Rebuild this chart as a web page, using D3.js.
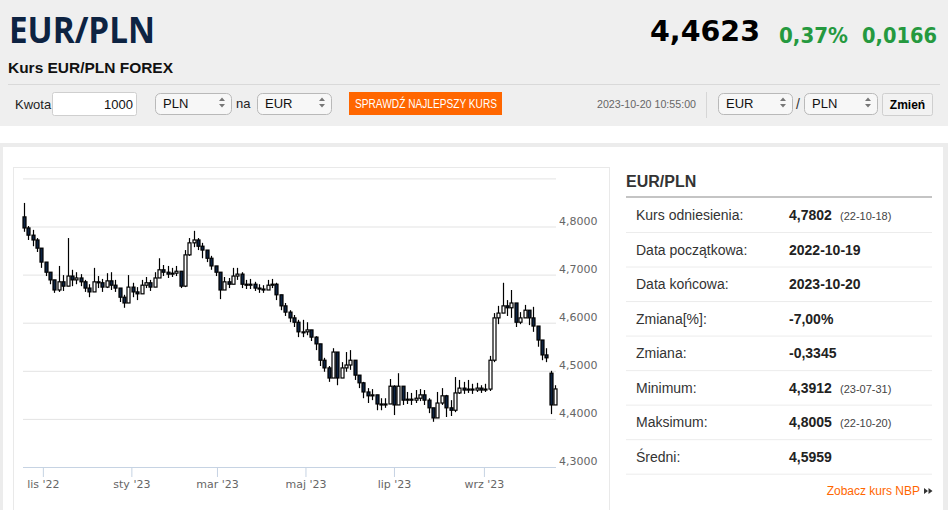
<!DOCTYPE html>
<html>
<head>
<meta charset="utf-8">
<script src="https://cdn.jsdelivr.net/npm/d3@7"></script>
<style>
  body { margin: 0; background: #fff; }
  svg text { font-family: "Liberation Sans", Arial, sans-serif; }
</style>
</head>
<body>
<div id="page"></div>
<script>
// dane: świece co 3 dni od 2022-10-19
const startDate = new Date(2022, 9, 19);
const stepDays = 3;

const opens = [
  4.820,4.797,4.782,4.772,4.755,4.726,4.705,4.689,4.668,4.685,
  4.676,4.697,4.689,4.693,4.685,4.672,4.664,4.685,4.683,4.674,
  4.687,4.678,4.672,4.653,4.641,4.674,4.664,4.660,4.678,4.683,
  4.674,4.693,4.710,4.705,4.701,4.703,4.707,4.676,4.741,4.766,
  4.772,4.759,4.751,4.734,4.718,4.705,4.668,4.685,4.680,4.697,
  4.701,4.680,4.678,4.680,4.672,4.670,4.668,4.678,4.680,4.658,
  4.635,4.622,4.610,4.601,4.581,4.581,4.585,4.570,4.556,4.522,
  4.506,4.485,4.539,4.485,4.506,4.512,4.522,4.491,4.475,4.456,
  4.448,4.450,4.431,4.429,4.431,4.468,4.429,4.468,4.439,4.441,
  4.439,4.443,4.450,4.439,4.423,4.402,4.433,4.448,4.423,4.418,
  4.454,4.464,4.460,4.462,4.460,4.464,4.460,4.462,4.522,4.610,
  4.620,4.635,4.631,4.641,4.601,4.610,4.626,4.610,4.593,4.564,
  4.533,4.495,4.429
];
const highs = [
  4.849,4.801,4.793,4.776,4.755,4.720,4.705,4.685,4.718,4.699,
  4.776,4.710,4.705,4.701,4.689,4.680,4.714,4.697,4.691,4.703,
  4.705,4.689,4.672,4.658,4.699,4.683,4.674,4.689,4.695,4.689,
  4.705,4.734,4.720,4.718,4.714,4.718,4.705,4.751,4.776,4.791,
  4.776,4.766,4.751,4.739,4.718,4.701,4.695,4.693,4.714,4.714,
  4.705,4.689,4.691,4.685,4.680,4.678,4.689,4.691,4.683,4.651,
  4.641,4.626,4.616,4.606,4.606,4.601,4.585,4.572,4.554,4.527,
  4.510,4.547,4.539,4.518,4.539,4.543,4.522,4.491,4.477,4.464,
  4.462,4.450,4.443,4.443,4.483,4.470,4.495,4.460,4.456,4.454,
  4.460,4.462,4.460,4.443,4.423,4.456,4.464,4.450,4.439,4.487,
  4.481,4.477,4.481,4.473,4.475,4.470,4.473,4.531,4.620,4.635,
  4.683,4.647,4.668,4.626,4.622,4.637,4.626,4.633,4.589,4.554,
  4.547,4.500,4.470
];
const lows = [
  4.789,4.772,4.759,4.747,4.714,4.697,4.680,4.662,4.664,4.666,
  4.680,4.676,4.680,4.676,4.664,4.653,4.668,4.672,4.664,4.672,
  4.668,4.664,4.643,4.631,4.647,4.653,4.647,4.664,4.672,4.666,
  4.676,4.697,4.697,4.693,4.695,4.697,4.672,4.674,4.739,4.757,
  4.751,4.734,4.726,4.710,4.697,4.649,4.668,4.672,4.683,4.689,
  4.672,4.670,4.670,4.666,4.662,4.662,4.668,4.672,4.647,4.626,
  4.614,4.601,4.591,4.570,4.570,4.574,4.562,4.543,4.510,4.498,
  4.477,4.485,4.470,4.491,4.498,4.502,4.481,4.464,4.443,4.433,
  4.439,4.418,4.418,4.423,4.431,4.408,4.431,4.429,4.431,4.429,
  4.433,4.437,4.429,4.412,4.394,4.402,4.429,4.404,4.406,4.414,
  4.452,4.452,4.454,4.452,4.456,4.454,4.456,4.458,4.518,4.597,
  4.622,4.614,4.610,4.591,4.597,4.610,4.595,4.581,4.550,4.522,
  4.518,4.410,4.439
];
const closes = [
  4.797,4.782,4.772,4.755,4.726,4.705,4.689,4.668,4.685,4.676,
  4.697,4.689,4.693,4.685,4.672,4.664,4.685,4.683,4.674,4.687,
  4.678,4.672,4.653,4.641,4.674,4.664,4.660,4.678,4.683,4.674,
  4.693,4.710,4.705,4.701,4.703,4.707,4.676,4.741,4.766,4.772,
  4.759,4.751,4.734,4.718,4.705,4.668,4.685,4.680,4.697,4.701,
  4.680,4.678,4.680,4.672,4.670,4.668,4.678,4.680,4.658,4.635,
  4.622,4.610,4.601,4.581,4.581,4.585,4.570,4.556,4.522,4.506,
  4.485,4.539,4.485,4.506,4.512,4.522,4.491,4.475,4.456,4.448,
  4.450,4.431,4.429,4.431,4.468,4.429,4.468,4.439,4.441,4.439,
  4.443,4.450,4.439,4.423,4.402,4.433,4.448,4.423,4.418,4.454,
  4.464,4.460,4.462,4.460,4.464,4.460,4.462,4.522,4.610,4.620,
  4.635,4.631,4.641,4.601,4.610,4.626,4.610,4.593,4.564,4.533,
  4.527,4.429,4.4623
];

const tickDates = [new Date(2022,10,1), new Date(2023,0,1), new Date(2023,2,1), new Date(2023,4,1), new Date(2023,6,1), new Date(2023,8,1)];
const tickLabels = ["lis '22", "sty '23", "mar '23", "maj '23", "lip '23", "wrz '23"];
const yTicks = [4.3, 4.4, 4.5, 4.6, 4.7, 4.8, 4.9];

const statLabels = ["Kurs odniesienia:", "Data początkowa:", "Data końcowa:", "Zmiana[%]:", "Zmiana:", "Minimum:", "Maksimum:", "Średni:"];
const statValues = ["4,7802", "2022-10-19", "2023-10-20", "-7,00%", "-0,3345", "4,3912", "4,8005", "4,5959"];
const statDates = ["(22-10-18)", "", "", "", "", "(23-07-31)", "(22-10-20)", ""];

const W = 948, H = 510;
const svg = d3.select("#page").append("svg").attr("width", W).attr("height", H);

// --- nagłówek ---
svg.append("rect").attr("width", W).attr("height", 126).attr("fill", "#efefef");
svg.append("text").attr("x", 9).attr("y", 43).text("EUR/PLN")
  .style("font-family", "'Open Sans', sans-serif").attr("font-weight", 700)
  .attr("font-size", 36).attr("fill", "#0d2342").attr("textLength", 146).attr("lengthAdjust", "spacingAndGlyphs");
svg.append("text").attr("x", 8).attr("y", 73).text("Kurs EUR/PLN FOREX")
  .attr("font-weight", "bold").attr("font-size", 15).attr("fill", "#111")
  .attr("textLength", 165).attr("lengthAdjust", "spacingAndGlyphs");

svg.append("text").attr("x", 650).attr("y", 41).text("4,4623")
  .style("font-family", "'DejaVu Sans', sans-serif").attr("font-weight", "bold")
  .attr("font-size", 28).attr("fill", "#000").attr("textLength", 110).attr("lengthAdjust", "spacingAndGlyphs");
svg.append("text").attr("x", 779).attr("y", 43).text("0,37%")
  .style("font-family", "'DejaVu Sans', sans-serif").attr("font-weight", "bold")
  .attr("font-size", 21).attr("fill", "#25993f").attr("textLength", 69).attr("lengthAdjust", "spacingAndGlyphs");
svg.append("text").attr("x", 862).attr("y", 43).text("0,0166")
  .style("font-family", "'DejaVu Sans', sans-serif").attr("font-weight", "bold")
  .attr("font-size", 21).attr("fill", "#25993f").attr("textLength", 75).attr("lengthAdjust", "spacingAndGlyphs");

svg.append("line").attr("x1", 8).attr("x2", 940).attr("y1", 84.5).attr("y2", 84.5).attr("stroke", "#d9d9d9");

// pasek z formularzem
function selectBox(x0, w, label) {
  const g = svg.append("g");
  g.append("rect").attr("x", x0 + 0.5).attr("y", 93.5).attr("width", w).attr("height", 21).attr("rx", 5)
    .attr("fill", "#f7f7f7").attr("stroke", "#b9b9b9");
  g.append("text").attr("x", x0 + 8).attr("y", 108).text(label).attr("font-size", 13).attr("fill", "#111");
  const ax = x0 + w - 9;
  g.append("path").attr("d", `M${ax - 3},101 L${ax},97.5 L${ax + 3},101 Z M${ax - 3},104 L${ax},107.5 L${ax + 3},104 Z`).attr("fill", "#777");
}
svg.append("text").attr("x", 15).attr("y", 109).text("Kwota").attr("font-size", 13).attr("fill", "#222");
svg.append("rect").attr("x", 52.5).attr("y", 92.5).attr("width", 84).attr("height", 23).attr("rx", 2)
  .attr("fill", "#fff").attr("stroke", "#cfcfcf");
svg.append("text").attr("x", 133).attr("y", 109).attr("text-anchor", "end").text("1000").attr("font-size", 13).attr("fill", "#111");
selectBox(155, 76, "PLN");
svg.append("text").attr("x", 236).attr("y", 108).text("na").attr("font-size", 13).attr("fill", "#222");
selectBox(257, 74, "EUR");
svg.append("rect").attr("x", 349).attr("y", 92).attr("width", 153).attr("height", 23).attr("fill", "#ff6600");
svg.append("text").attr("x", 355).attr("y", 108).text("SPRAWDŹ NAJLEPSZY KURS")
  .style("font-family", "'Liberation Sans Narrow', 'Liberation Sans', sans-serif")
  .attr("font-size", 12).attr("fill", "#fff").attr("textLength", 142).attr("lengthAdjust", "spacingAndGlyphs");

svg.append("text").attr("x", 597).attr("y", 108).text("2023-10-20 10:55:00").attr("font-size", 11).attr("fill", "#666")
  .attr("textLength", 99).attr("lengthAdjust", "spacingAndGlyphs");
svg.append("line").attr("x1", 706.5).attr("x2", 706.5).attr("y1", 92).attr("y2", 118).attr("stroke", "#d6d6d6");
selectBox(718, 74, "EUR");
svg.append("text").attr("x", 796).attr("y", 109).text("/").attr("font-size", 14).attr("fill", "#333");
selectBox(804, 73, "PLN");
svg.append("rect").attr("x", 882.5).attr("y", 93.5).attr("width", 50).attr("height", 22).attr("rx", 2)
  .attr("fill", "#f2f2f2").attr("stroke", "#cfcfcf");
svg.append("text").attr("x", 907.5).attr("y", 109).attr("text-anchor", "middle").text("Zmień")
  .attr("font-weight", "bold").attr("font-size", 12).attr("fill", "#000");

// --- panel dolny ---
svg.append("rect").attr("x", 0).attr("y", 143).attr("width", W).attr("height", H - 143).attr("fill", "#ececec");
svg.append("rect").attr("x", 3).attr("y", 147).attr("width", 940).attr("height", H - 147).attr("fill", "#fff");
svg.append("rect").attr("x", 13.5).attr("y", 167.5).attr("width", 596).attr("height", 360)
  .attr("fill", "#fff").attr("stroke", "#e9e9e9");

// --- wykres świecowy ---
const candles = closes.map((c, i) => ({
  date: d3.timeDay.offset(startDate, i * stepDays),
  o: opens[i], h: highs[i], l: lows[i], c: c
}));

const x = d3.scaleTime()
  .domain([startDate, candles[candles.length - 1].date])
  .range([24, 555]);
const y = d3.scaleLinear().domain([4.3, 4.9]).range([467, 178.4]);

const plotLeft = 23, plotRight = 556;

// siatka + etykiety osi Y
const gy = svg.append("g").attr("transform", `translate(${plotLeft},0)`)
  .call(d3.axisRight(y).tickValues(yTicks).tickSize(plotRight - plotLeft).tickPadding(3)
    .tickFormat(d => d >= 4.9 ? "" : d3.format(".4f")(d).replace(".", ",")));
gy.select(".domain").remove();
gy.selectAll(".tick line").attr("stroke", "#e3e3e3");
gy.selectAll(".tick text").attr("font-size", 11).attr("fill", "#666").attr("dy", "-0.2em")
  .style("font-family", "'DejaVu Sans', sans-serif");

// oś X
const gx = svg.append("g").attr("transform", "translate(0,467)")
  .call(d3.axisBottom(x).tickValues(tickDates).tickSize(10).tickPadding(3)
    .tickFormat((d, i) => tickLabels[i]));
gx.select(".domain").attr("d", `M${plotLeft},0.5H${plotRight}`).attr("stroke", "#c6d3e3");
gx.selectAll(".tick line").attr("stroke", "#c6d3e3");
gx.selectAll(".tick text").attr("font-size", 11).attr("fill", "#666")
  .style("font-family", "'DejaVu Sans', sans-serif");

const gc = svg.append("g");
const cw = 3;
gc.selectAll("line.wick").data(candles).join("line").attr("class", "wick")
  .attr("x1", d => Math.round(x(d.date)) + 0.5).attr("x2", d => Math.round(x(d.date)) + 0.5)
  .attr("y1", d => y(Math.max(d.h, d.o, d.c))).attr("y2", d => y(Math.min(d.l, d.o, d.c)))
  .attr("stroke", "#000").attr("stroke-width", 1.2);
gc.selectAll("rect.body").data(candles).join("rect").attr("class", "body")
  .attr("x", d => Math.round(x(d.date)) + 0.5 - cw / 2)
  .attr("width", cw)
  .attr("y", d => y(Math.max(d.o, d.c)))
  .attr("height", d => Math.max(1, Math.abs(y(d.o) - y(d.c))))
  .attr("fill", d => d.c >= d.o ? "#fff" : "#0d2342")
  .attr("stroke", "#000").attr("stroke-width", 1.2);

// --- tabela statystyk ---
svg.append("text").attr("x", 626).attr("y", 187).text("EUR/PLN")
  .attr("font-weight", "bold").attr("font-size", 16).attr("fill", "#333");
svg.append("line").attr("x1", 626).attr("x2", 932).attr("y1", 197).attr("y2", 197)
  .attr("stroke", "#c4c4c4").attr("stroke-width", 2);

const rowY = d3.scalePoint().domain(d3.range(statLabels.length)).range([215, 456.7]);
const rows = svg.append("g").selectAll("g").data(statLabels).join("g")
  .attr("transform", (d, i) => `translate(0,${rowY(i)})`);
rows.append("text").attr("x", 636).attr("y", 5).text(d => d).attr("font-size", 14).attr("fill", "#333");
rows.append("text").attr("x", 789).attr("y", 5).text((d, i) => statValues[i])
  .attr("font-weight", "bold").attr("font-size", 14).attr("fill", "#222");
rows.append("text").attr("x", 840).attr("y", 5).text((d, i) => statDates[i])
  .attr("font-size", 11).attr("fill", "#444");
rows.append("line").attr("x1", 626).attr("x2", 932).attr("y1", 17.5).attr("y2", 17.5)
  .attr("stroke", "#ececec");

svg.append("text").attr("x", 920).attr("y", 495).attr("text-anchor", "end").text("Zobacz kurs NBP")
  .attr("font-size", 12).attr("fill", "#ff6600");
svg.append("path").attr("d", "M924,488 L928,491 L924,494 Z M928.5,488 L932.5,491 L928.5,494 Z").attr("fill", "#333");
</script>
</body>
</html>
